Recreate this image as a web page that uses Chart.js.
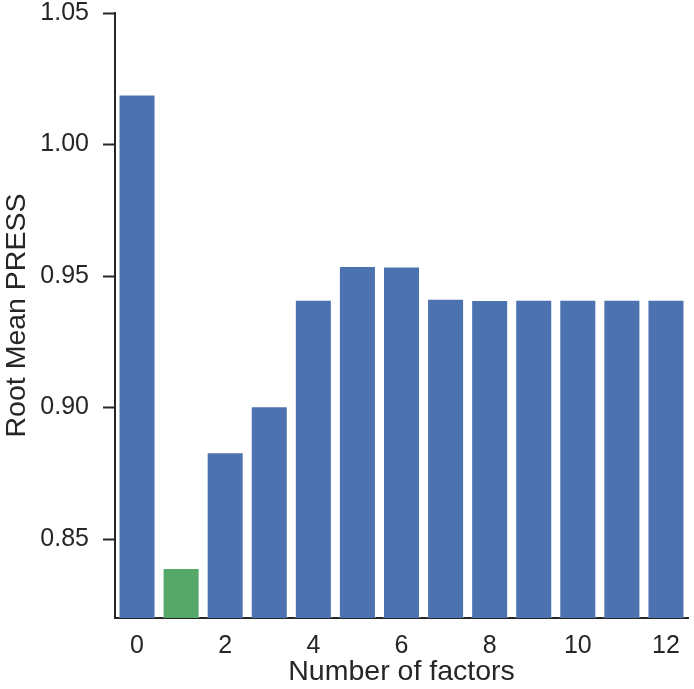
<!DOCTYPE html>
<html>
<head>
<meta charset="utf-8">
<script src="https://cdn.jsdelivr.net/npm/chart.js@4.4.1/dist/chart.umd.min.js"></script>
<style>
  html, body { margin: 0; padding: 0; background: #fff; }
  #wrap { width: 694px; height: 689px; }
</style>
</head>
<body>
<div id="wrap"><canvas id="myChart" width="694" height="689"></canvas></div>
<script>
const factors = ['0', '1', '2', '3', '4', '5', '6', '7', '8', '9', '10', '11', '12'];
const rootMeanPress = [1.019, 0.839, 0.883, 0.9005, 0.941, 0.9538, 0.9536, 0.9414, 0.9409, 0.941, 0.941, 0.941, 0.941];
const bestIndex = 1; // lowest PRESS, drawn green
const yTicks = [0.85, 0.90, 0.95, 1.00, 1.05];

const blue = '#4c72b0';
const green = '#55a868';
const ink = '#262626';

const ctx = document.getElementById('myChart').getContext('2d');

const myChart = new Chart(ctx, {
    type: 'bar',
    data: {
        labels: factors,
        datasets: [{
            label: 'Root Mean PRESS',
            data: rootMeanPress,
            backgroundColor: rootMeanPress.map((v, i) => i === bestIndex ? green : blue),
            borderColor: 'rgba(255,255,255,0.35)',
            borderWidth: 1,
            borderSkipped: false,
            categoryPercentage: 1.0,
            barPercentage: 0.84,
        }]
    },
    options: {
        responsive: false,
        animation: false,
        layout: {
            padding: { top: 13, right: 6, left: 0, bottom: 0 }
        },
        scales: {
            x: {
                grid: { display: false },
                border: { display: true, color: ink, width: 2 },
                ticks: {
                    autoSkip: false,
                    maxRotation: 0,
                    color: ink,
                    padding: 5,
                    font: { family: 'Liberation Sans, Arial, sans-serif', size: 25 },
                    callback: function(value, index) {
                        return index % 2 === 0 ? this.getLabelForValue(value) : '';
                    }
                },
                title: {
                    display: true,
                    text: 'Number of factors',
                    color: ink,
                    padding: { top: 0, bottom: 0 },
                    font: { family: 'Liberation Sans, Arial, sans-serif', size: 28.5 }
                },
                afterFit: function(scale) { scale.height = 71; }
            },
            y: {
                min: 0.82,
                max: 1.05,
                grid: {
                    display: true,
                    drawOnChartArea: false,
                    drawTicks: true,
                    tickLength: 12,
                    tickWidth: 2,
                    tickColor: ink
                },
                border: { display: true, color: ink, width: 2 },
                afterBuildTicks: function(scale) {
                    scale.ticks = yTicks.map(v => ({ value: v }));
                },
                ticks: {
                    color: ink,
                    padding: 14,
                    font: { family: 'Liberation Sans, Arial, sans-serif', size: 25 },
                    callback: function(value) { return value.toFixed(2); }
                },
                title: {
                    display: true,
                    text: 'Root Mean PRESS',
                    color: ink,
                    padding: { top: 0, bottom: 0 },
                    font: { family: 'Liberation Sans, Arial, sans-serif', size: 28.5 }
                },
                afterFit: function(scale) {
                    scale.width = 115;
                    scale.paddingTop = 0;
                    scale.paddingBottom = 0;
                }
            }
        },
        plugins: {
            legend: { display: false },
            tooltip: { enabled: false }
        }
    }
});
</script>
</body>
</html>
